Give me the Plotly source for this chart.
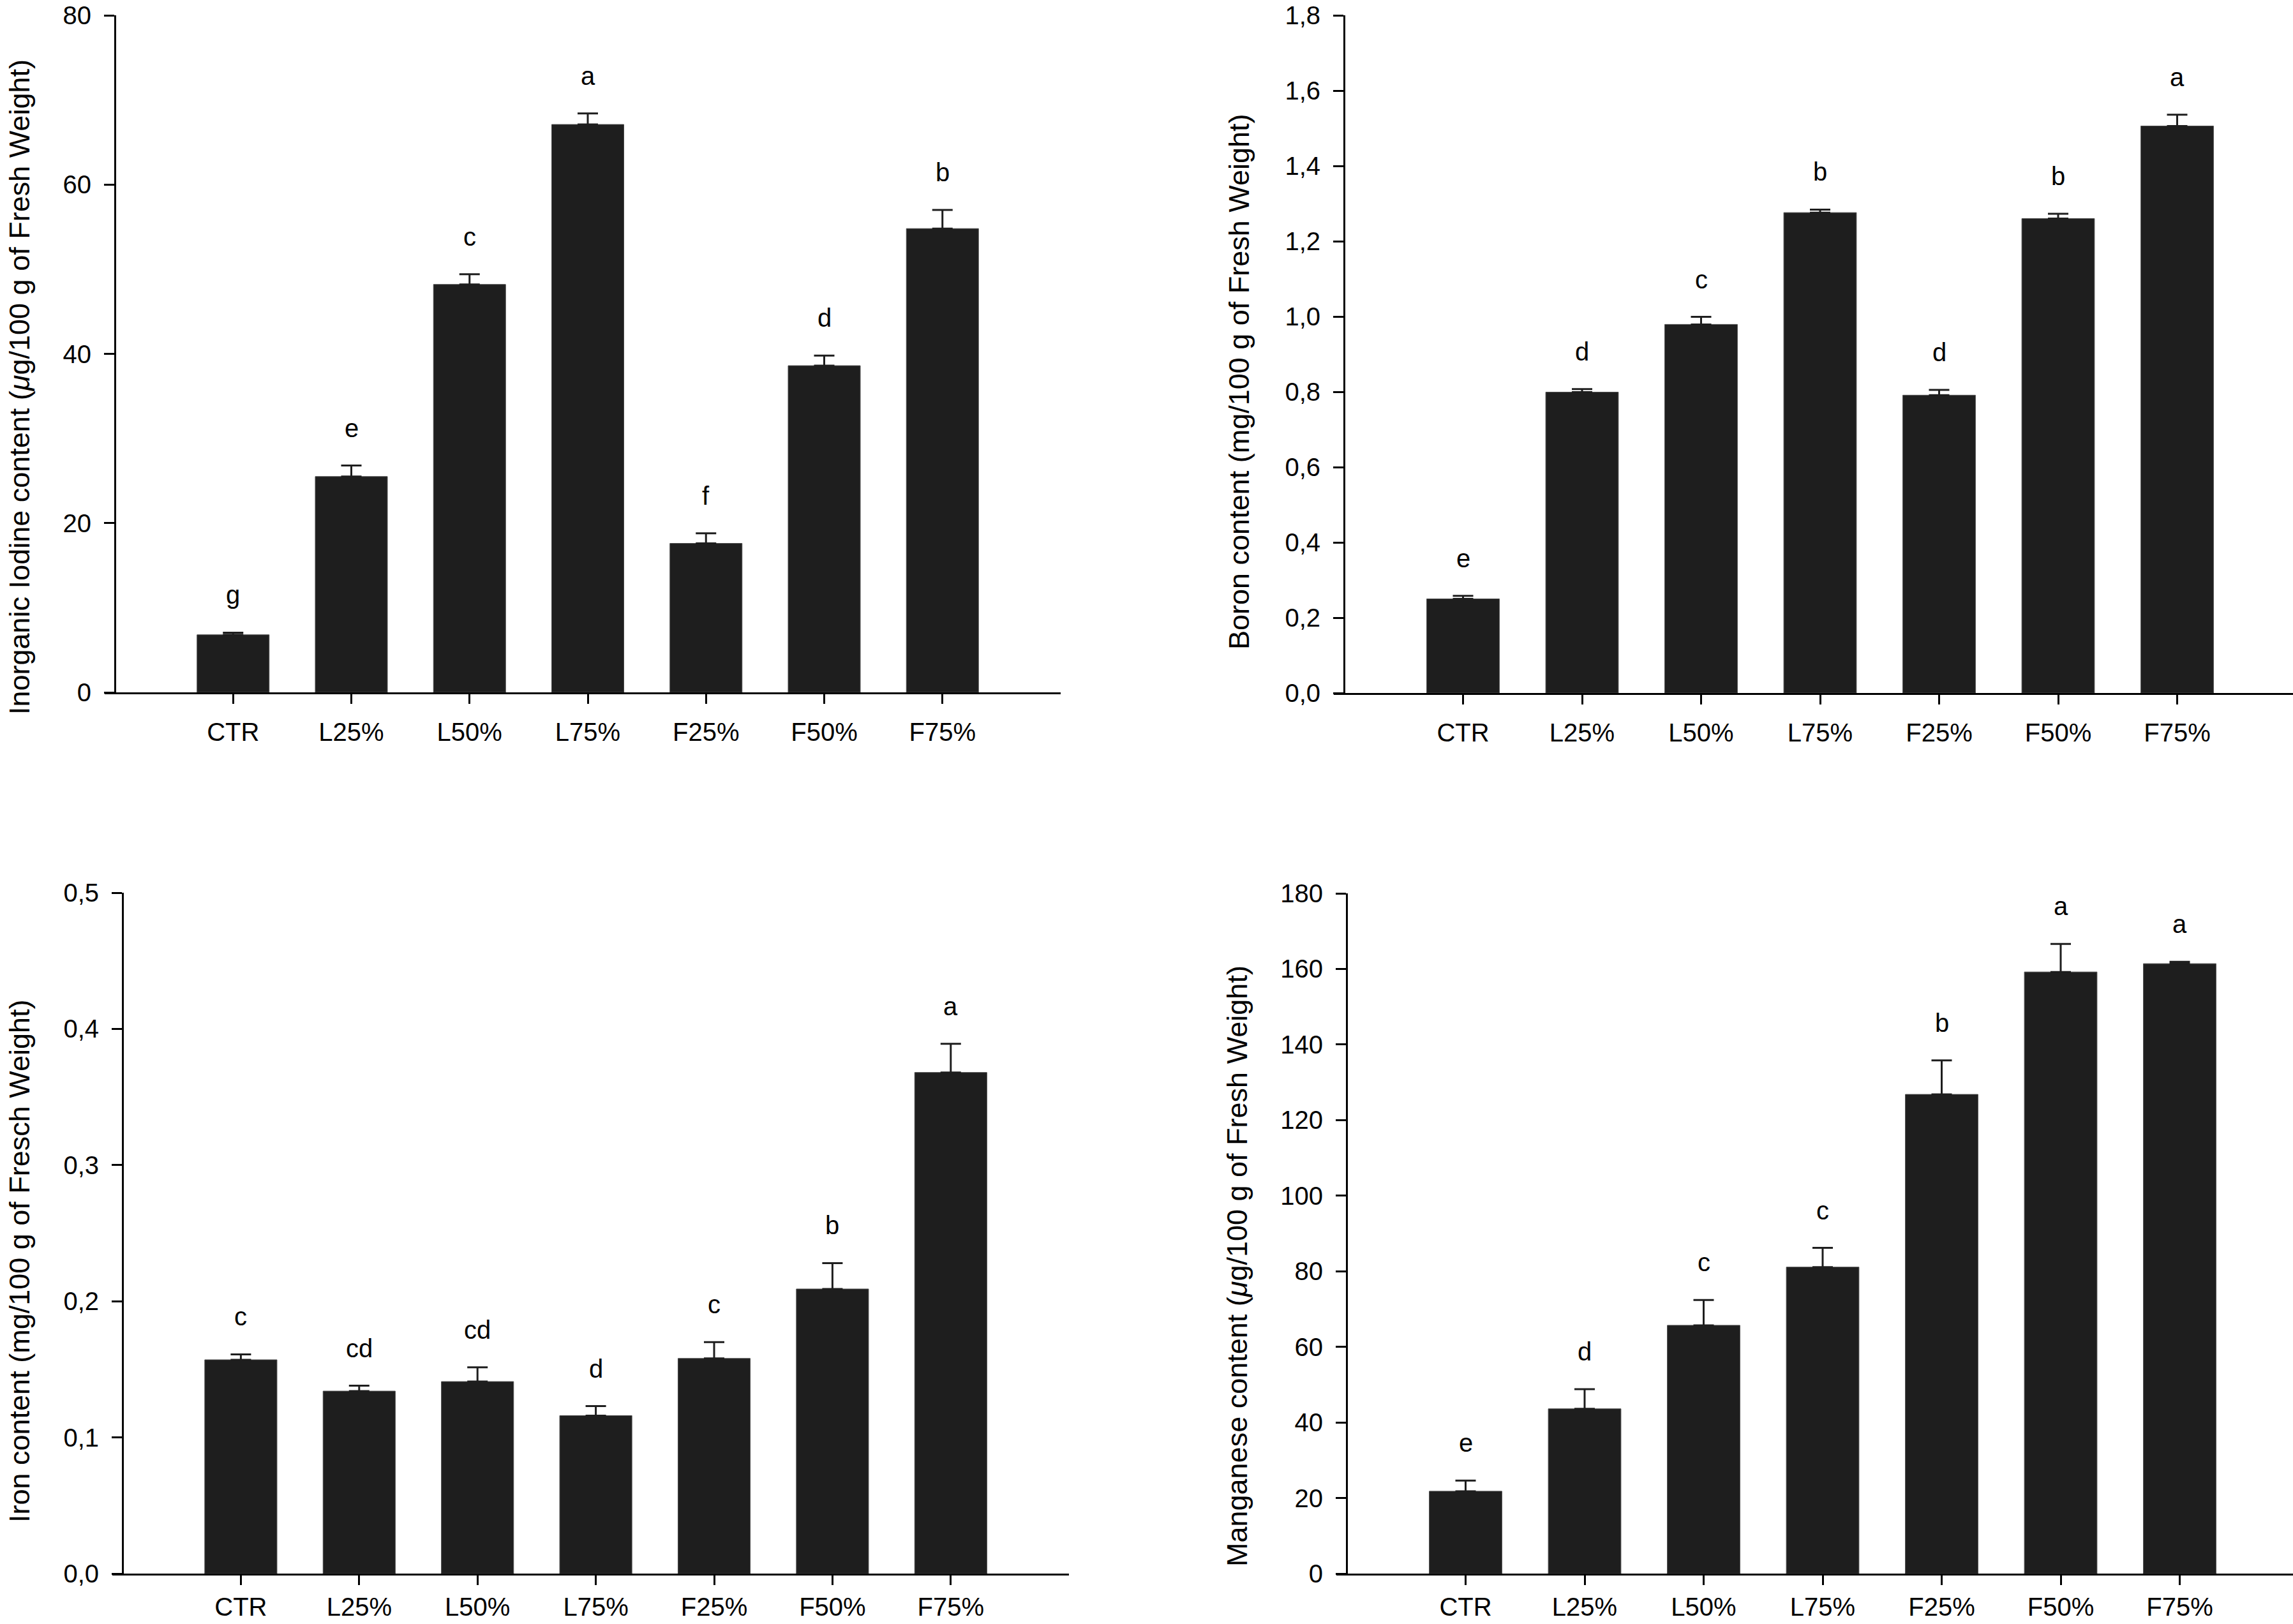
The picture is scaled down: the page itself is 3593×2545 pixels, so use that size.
import plotly.graph_objects as go

# treatments, same on every panel
treatments = ["CTR", "L25%", "L50%", "L75%", "F25%", "F50%", "F75%"]

# inorganic iodine (ug/100 g FW)
iodine = [6.8, 25.5, 48.2, 67.1, 17.6, 38.6, 54.8]
iodine_err = [0.25, 1.3, 1.2, 1.3, 1.2, 1.2, 2.2]
iodine_let = ["g", "e", "c", "a", "f", "d", "b"]

# boron (mg/100 g FW)
boron = [0.250, 0.799, 0.979, 1.276, 0.791, 1.260, 1.506]
boron_err = [0.008, 0.008, 0.020, 0.008, 0.014, 0.013, 0.030]
boron_let = ["e", "d", "c", "b", "d", "b", "a"]

# iron (mg/100 g FW)
iron = [0.157, 0.134, 0.141, 0.116, 0.158, 0.209, 0.368]
iron_err = [0.004, 0.004, 0.0105, 0.007, 0.012, 0.019, 0.021]
iron_let = ["c", "cd", "cd", "d", "c", "b", "a"]

# manganese (ug/100 g FW)
manganese = [21.8, 43.6, 65.7, 81.1, 126.8, 159.2, 161.4]
manganese_err = [2.8, 5.2, 6.7, 5.1, 9.0, 7.4, 0.5]
manganese_let = ["e", "d", "c", "c", "b", "a", "a"]

W, H = 3593, 2545
font = "Liberation Sans, Arial, Helvetica, sans-serif"
bar_col = "#1e1e1e"
TICK = 16

panels = [
    # values, errors, letters, y max, dtick, tickformat, title,
    # y-axis x px, x-axis end px, category step px, y top px, y zero px,
    # title centre px, x label standoff
    (iodine, iodine_err, iodine_let, 80, 20, "d",
     "Inorganic Iodine content (<i>μ</i>g/100 g of Fresh Weight)",
     180, 1662, 185.25, 24, 1085, (30, 607), 10),
    (boron, boron_err, boron_let, 1.8, 0.2, ".1f",
     "Boron content (mg/100 g of Fresh Weight)",
     2106, 3593, 186.5, 24, 1086, (1941, 598), 10),
    (iron, iron_err, iron_let, 0.5, 0.1, ".1f",
     "Iron content (mg/100 g of Fresch Weight)",
     192, 1675, 185.4, 1399, 2466, (30, 1976), 0),
    (manganese, manganese_err, manganese_let, 180, 20, "d",
     "Manganese content (<i>μ</i>g/100 g of Fresh Weight)",
     2110, 3593, 186.5, 1400, 2466, (1938, 1984), 0),
]

fig = go.Figure()
annotations = []
layout = {}

for i, (vals, errs, lets, ymax, dt, fmt, title,
        ax_x, ax_end, step, y_top, y_zero, tpos, xstand) in enumerate(panels):
    n = "" if i == 0 else str(i + 1)
    fig.add_trace(go.Bar(
        x=treatments, y=vals, width=0.61,
        marker=dict(color=bar_col, line=dict(color="#4a4a4a", width=1)),
        error_y=dict(type="data", array=errs, arrayminus=[0] * len(errs),
                     symmetric=False, color=bar_col, thickness=3, width=16),
        xaxis="x" + n, yaxis="y" + n, showlegend=False,
    ))
    # x-axis line starts where the y ticks start, like the original
    layout["xaxis" + n] = dict(
        domain=[(ax_x - TICK) / W, min(ax_end / W, 1.0)], anchor="y" + n,
        range=[-1 - TICK / step, -1 + (ax_end - ax_x) / step],
        categoryorder="array", categoryarray=treatments,
        showline=True, linecolor="black", linewidth=3,
        ticks="outside", ticklen=15, tickwidth=3, tickcolor="black",
        tickfont=dict(family=font, size=40, color="black"),
        ticklabelstandoff=xstand, showgrid=False, zeroline=False,
        automargin=False, fixedrange=True,
    )
    layout["yaxis" + n] = dict(
        domain=[1 - y_zero / H, 1 - y_top / H], anchor="free",
        position=ax_x / W, range=[0, ymax], dtick=dt, tick0=0,
        tickformat=fmt, showline=True, linecolor="black", linewidth=3,
        ticks="outside", ticklen=TICK, tickwidth=3, tickcolor="black",
        tickfont=dict(family=font, size=40, color="black"),
        ticklabelstandoff=12, showgrid=False, zeroline=False,
        automargin=False, fixedrange=True,
    )
    for t, v, e, l in zip(treatments, vals, errs, lets):
        annotations.append(dict(
            x=t, y=v + e, xref="x" + n, yref="y" + n, text=l,
            showarrow=False, yanchor="middle", yshift=59,
            font=dict(family=font, size=40, color="black"),
        ))
    annotations.append(dict(
        x=tpos[0] / W, y=1 - tpos[1] / H, xref="paper", yref="paper", text=title,
        textangle=-90, showarrow=False, xanchor="center", yanchor="middle",
        font=dict(family=font, size=45, color="black"),
    ))

fig.update_layout(
    width=W, height=H, autosize=False,
    margin=dict(l=0, r=0, t=0, b=0, pad=0),
    paper_bgcolor="white", plot_bgcolor="white",
    separators=",.", annotations=annotations, **layout,
)

fig.write_html("out.html", config={"displayModeBar": False},
               post_script="document.body.style.margin='0';")
